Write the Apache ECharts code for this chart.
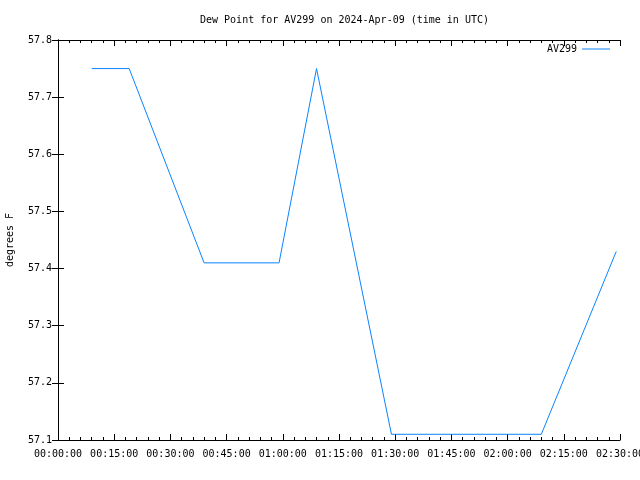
<!DOCTYPE html>
<html><head><meta charset="utf-8">
<script src="https://cdn.jsdelivr.net/npm/echarts@6/dist/echarts.min.js"></script>
<style>html,body{margin:0;padding:0;background:#fff}#c{width:640px;height:480px}</style>
</head><body><div id="c"></div>
<script>
const times = ['00:09','00:19','00:39','00:59','01:09','01:29','02:09','02:29'];
const dewPoint = [57.75, 57.75, 57.41, 57.41, 57.75, 57.11, 57.11, 57.43];
const seriesName = 'AV299';
const titleText = 'Dew Point for AV299 on 2024-Apr-09 (time in UTC)';
const yLabel = 'degrees F';

function toMin(t){const p=t.split(':');return (+p[0])*60+(+p[1]);}
function fmt(m){const h=Math.floor(m/60),mm=m%60;return String(h).padStart(2,'0')+':'+String(mm).padStart(2,'0')+':00';}
const data = times.map((t,i)=>[toMin(t), dewPoint[i]]);
const font = 'DejaVu Sans Mono';
const axisLine = {show:true, lineStyle:{color:'#000', width:1}};
const chart = echarts.init(document.getElementById('c'), null, {renderer:'canvas'});
chart.setOption({
  animation:false,
  backgroundColor:'#fff',
  title:{text:titleText, left:195, top:10, textStyle:{fontFamily:font, fontSize:10, fontWeight:'normal', color:'#000'}},
  legend:{right:25, top:39, icon:'rect', itemWidth:28, itemHeight:1, align:'right', itemGap:6,
    textStyle:{fontFamily:font, fontSize:10, color:'#000'}, data:[seriesName]},
  grid:{left:58, right:20, top:40, bottom:40, containLabel:false, outerBoundsMode:'none'},
  xAxis:[{type:'value', min:0, max:150, interval:15, position:'bottom',
    axisLine, axisTick:{inside:true, length:6, lineStyle:{color:'#000'}},
    minorTick:{show:true, splitNumber:5, length:3, lineStyle:{color:'#000'}},
    splitLine:{show:false},
    axisLabel:{formatter:v=>fmt(v), fontFamily:font, fontSize:10, color:'#000', margin:9, showMaxLabel:true, hideOverlap:false}},
    {type:'value', min:0, max:150, interval:15, position:'top',
    axisLine, axisTick:{inside:true, length:6, lineStyle:{color:'#000'}},
    minorTick:{show:true, splitNumber:5, length:3, lineStyle:{color:'#000'}},
    splitLine:{show:false}, axisLabel:{show:false}}],
  yAxis:[{type:'value', min:57.1, max:57.8, interval:0.1, position:'left',
    name:yLabel, nameLocation:'middle', nameGap:43, nameRotate:90,
    nameTextStyle:{fontFamily:font, fontSize:10, color:'#000'},
    axisLine, axisTick:{inside:true, length:6, lineStyle:{color:'#000'}},
    splitLine:{show:false},
    axisLabel:{formatter:v=>v.toFixed(1), fontFamily:font, fontSize:10, color:'#000', margin:6}},
    {type:'value', min:57.1, max:57.8, interval:0.1, position:'right',
    axisLine, axisTick:{inside:true, length:6, lineStyle:{color:'#000'}},
    splitLine:{show:false}, axisLabel:{show:false}}],
  series:[{name:seriesName, type:'line', data, xAxisIndex:0, yAxisIndex:0,
    showSymbol:false, symbol:'none', lineStyle:{color:'#0a84ff', width:1}, itemStyle:{color:'#0a84ff'}}]
});
</script></body></html>
